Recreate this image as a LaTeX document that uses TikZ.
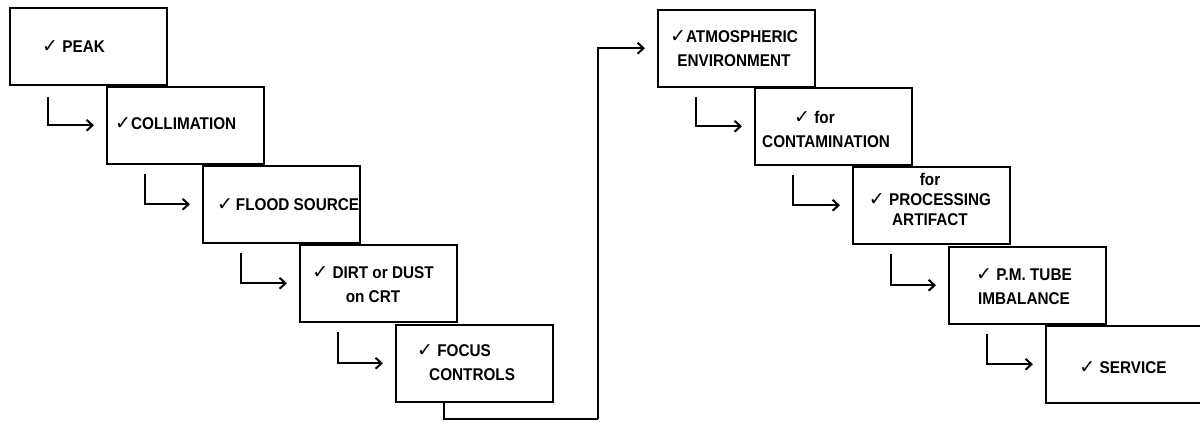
\documentclass[tikz,border=0pt]{standalone}
\usepackage{fontspec}
\setmainfont{Liberation Sans}[FakeStretch=0.9]
\newfontfamily\chkfont{DejaVu Sans}
\newcommand\ck{{\chkfont\bfseries\fontsize{19}{19}\selectfont\symbol{"2713}}}
\usetikzlibrary{arrows.meta}
\begin{document}
\begin{tikzpicture}[x=1pt,y=-1pt,
  stepbox/.style={draw, line width=1.5pt, minimum width=157pt, minimum height=77pt, inner sep=0pt, anchor=north west},
  lbl/.style={font=\fontsize{17}{24}\selectfont\bfseries, inner sep=0pt},
  arr/.style={line width=2pt, -{Straight Barb[length=6pt,width=11pt,line width=2pt]}},
  link/.style={line width=1.7pt}]
\useasboundingbox (0,0) rectangle (1200,421);
% boxes
\node[stepbox] (b1) at (9,7) {};
\node[stepbox] (b2) at (106,86) {};
\node[stepbox] (b3) at (202,165) {};
\node[stepbox] (b4) at (299,244) {};
\node[stepbox] (b5) at (395,324) {};
\node[stepbox] (b6) at (657,9) {};
\node[stepbox] (b7) at (754,87) {};
\node[stepbox] (b8) at (852,166) {};
\node[stepbox] (b9) at (948,246) {};
\node[stepbox] (b10) at (1045,325) {};
% texts
\node[lbl, anchor=west] (t1) at (42,47) {\ck\ PEAK};
\node[lbl, anchor=west] (t2) at (115,124) {\ck COLLIMATION};
\node[lbl, anchor=west] (t3) at (217,205) {\ck\,FLOOD SOURCE};
\node[lbl, align=center] (t4) at (373,285) {\ck\ DIRT or DUST\\on CRT};
\node[lbl, align=left, anchor=west] (t5) at (417,363) {\ck\ FOCUS\\\hspace*{12pt}CONTROLS};
\node[lbl, align=center] (t6) at (734,49) {\ck ATMOSPHERIC\\ENVIRONMENT};
\node[lbl, align=left, anchor=west] (t7) at (762,129) {\hspace*{32pt}\ck\ for\\CONTAMINATION};
\node[lbl, align=center, font=\fontsize{17}{20}\selectfont\bfseries] (t8) at (930,199) {for\\\ck\ PROCESSING\\ARTIFACT};
\node[lbl, align=center] (t9) at (1024,287) {\ck\ P.M. TUBE\\IMBALANCE};
\node[lbl] (t10) at (1123,368) {\ck\ SERVICE};
% step connectors
\draw[arr] ([xshift=39pt,yshift=-11pt]b1.south west) |- ([xshift=-12pt]b2.west);
\draw[arr] ([xshift=39pt,yshift=-9pt]b2.south west) |- ([xshift=-12pt]b3.west);
\draw[arr] ([xshift=39pt,yshift=-9pt]b3.south west) |- ([xshift=-12pt]b4.west);
\draw[arr] ([xshift=39pt,yshift=-9pt]b4.south west) |- ([xshift=-12pt]b5.west);
\draw[arr] ([xshift=39pt,yshift=-9pt]b6.south west) |- ([xshift=-12pt]b7.west);
\draw[arr] ([xshift=39pt,yshift=-9pt]b7.south west) |- ([xshift=-12pt]b8.west);
\draw[arr] ([xshift=39pt,yshift=-9pt]b8.south west) |- ([xshift=-12pt]b9.west);
\draw[arr] ([xshift=39pt,yshift=-9pt]b9.south west) |- ([xshift=-12pt]b10.west);
% long connector
\coordinate (turn) at (598,419);
\draw[link] ([xshift=49pt]b5.south west) |- (turn);
\draw[arr] (turn) |- ([xshift=-12pt]b6.west);
\end{tikzpicture}
\end{document}
